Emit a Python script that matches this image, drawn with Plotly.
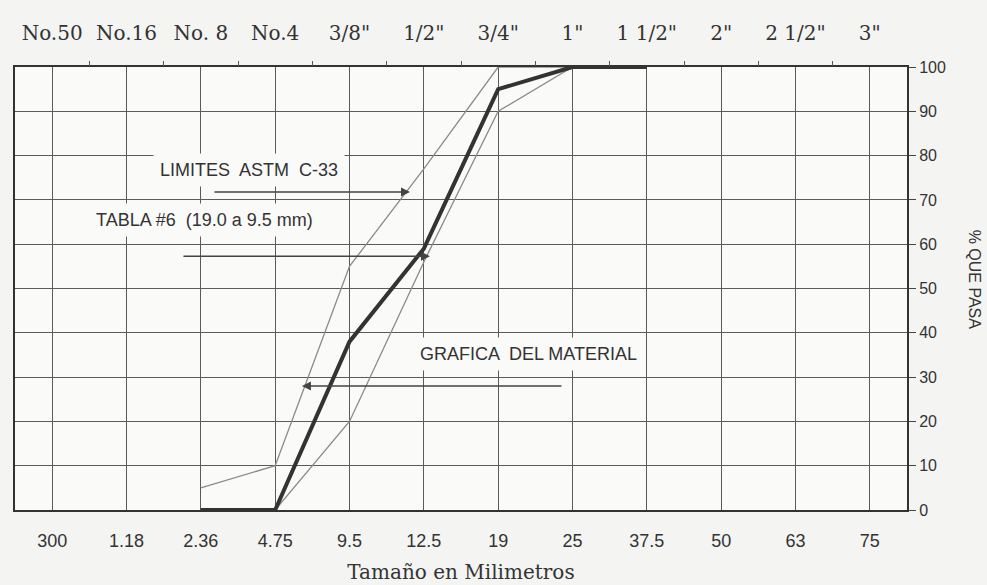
import plotly.graph_objects as go

# ---- data ----
sizes_mm = ["300", "1.18", "2.36", "4.75", "9.5", "12.5", "19", "25", "37.5", "50", "63", "75"]
sieve_labels = ["No.50", "No.16", "No. 8", "No.4", '3/8"', '1/2"', '3/4"', '1"', '1 1/2"', '2"', '2 1/2"', '3"']
pct_ticks = [0, 10, 20, 30, 40, 50, 60, 70, 80, 90, 100]

material_sizes = ["2.36", "4.75", "9.5", "12.5", "19", "25", "37.5"]
material_pass = [0, 0, 38, 59, 95, 100, 100]

upper_sizes = ["2.36", "4.75", "9.5", "12.5", "19", "25"]
upper_pass = [5, 10, 55, 77, 100, 100]

lower_sizes = ["4.75", "9.5", "12.5", "19", "25"]
lower_pass = [0, 20, 56, 90, 100]

# ---- styling ----
PAPER = "#f4f4f2"
PLOT = "#fafaf9"
GRID = "#5a5a5a"
SANS = "Liberation Sans, Arial, sans-serif"
SERIF = "DejaVu Serif, serif"

fig = go.Figure()
fig.add_trace(go.Scatter(x=upper_sizes, y=upper_pass, mode="lines",
                         line=dict(color="#8a8a8a", width=1.3), showlegend=False, hoverinfo="skip"))
fig.add_trace(go.Scatter(x=lower_sizes, y=lower_pass, mode="lines",
                         line=dict(color="#8a8a8a", width=1.3), showlegend=False, hoverinfo="skip"))
fig.add_trace(go.Scatter(x=material_sizes, y=material_pass, mode="lines",
                         line=dict(color="#333333", width=4), showlegend=False, hoverinfo="skip"))
# invisible traces to anchor the top axes
fig.add_trace(go.Scatter(x=[0, 11], y=[None, None], xaxis="x2", showlegend=False, hoverinfo="skip"))
fig.add_trace(go.Scatter(x=[0, 11], y=[None, None], xaxis="x3", showlegend=False, hoverinfo="skip"))

fig.update_layout(
    width=987, height=585,
    margin=dict(l=15, r=80, t=67, b=75),
    paper_bgcolor=PAPER, plot_bgcolor=PLOT,
    showlegend=False,
    xaxis=dict(
        type="category", categoryorder="array", categoryarray=sizes_mm,
        range=[-0.5, 11.5], tickvals=sizes_mm, ticktext=sizes_mm,
        showgrid=True, gridcolor=GRID, gridwidth=1,
        ticks="", ticklabelstandoff=13, automargin=False,
        tickfont=dict(family=SANS, size=18, color="#333"),
        showline=True, linecolor="#333", linewidth=2, mirror=True,
        zeroline=False,
        title=dict(text="Tamaño en Milimetros", font=dict(family=SERIF, size=20, color="#333"), standoff=15),
    ),
    xaxis2=dict(
        overlaying="x", side="top", range=[-0.5, 11.5], automargin=False,
        tickvals=list(range(len(sieve_labels))), ticktext=sieve_labels,
        ticks="", ticklabelstandoff=22, showgrid=False, zeroline=False, showline=False,
        tickfont=dict(family=SERIF, size=20, color="#333"),
    ),
    xaxis3=dict(
        overlaying="x", side="top", range=[-0.5, 11.5], automargin=False,
        tickvals=[i + 0.5 for i in range(len(sizes_mm) - 1)],
        ticks="outside", ticklen=5, tickwidth=1, tickcolor="#555",
        showticklabels=False, showgrid=False, zeroline=False, showline=False,
    ),
    yaxis=dict(
        side="right", range=[0, 100], tickvals=pct_ticks, automargin=False,
        showgrid=True, gridcolor=GRID, gridwidth=1,
        ticks="outside", ticklen=7, tickcolor="#444",
        tickfont=dict(family=SANS, size=16, color="#333"),
        showline=True, linecolor="#333", linewidth=2, mirror=True,
        zeroline=False,
    ),
)

ann_font = dict(family=SANS, size=18, color="#333")
fig.add_annotation(text="LIMITES  ASTM  C-33", xref="paper", yref="y", x=0.1547, y=76.7,
                   xanchor="left", yanchor="middle", showarrow=False, font=ann_font,
                   bgcolor=PLOT, borderpad=6)
fig.add_annotation(text="TABLA #6  (19.0 a 9.5 mm)", xref="paper", yref="y", x=0.083, y=65.5,
                   xanchor="left", yanchor="middle", showarrow=False, font=ann_font,
                   bgcolor=PLOT, borderpad=6)
fig.add_annotation(text="GRAFICA  DEL MATERIAL", xref="paper", yref="y", x=0.446, y=35.2,
                   xanchor="left", yanchor="middle", showarrow=False, font=ann_font,
                   bgcolor=PLOT, borderpad=6)

arrow_style = dict(showarrow=True, arrowhead=2, arrowsize=1.2, arrowwidth=1.5, arrowcolor="#444", text="")
fig.add_annotation(xref="paper", yref="y", x=0.4428, y=71.8, ax=-197, ay=0, **arrow_style)
fig.add_annotation(xref="paper", yref="y", x=0.4652, y=57.3, ax=-248, ay=0, **arrow_style)
fig.add_annotation(xref="paper", yref="y", x=0.3217, y=28.0, ax=261, ay=0, **arrow_style)

fig.add_annotation(text="% QUE PASA", xref="paper", yref="y", x=1.0751, y=52,
                   xanchor="center", yanchor="middle",
                   textangle=90, showarrow=False, font=dict(family=SANS, size=16, color="#333"))

fig.write_html("out.html", config={"displayModeBar": False},
               post_script="document.body.style.margin='0';")
